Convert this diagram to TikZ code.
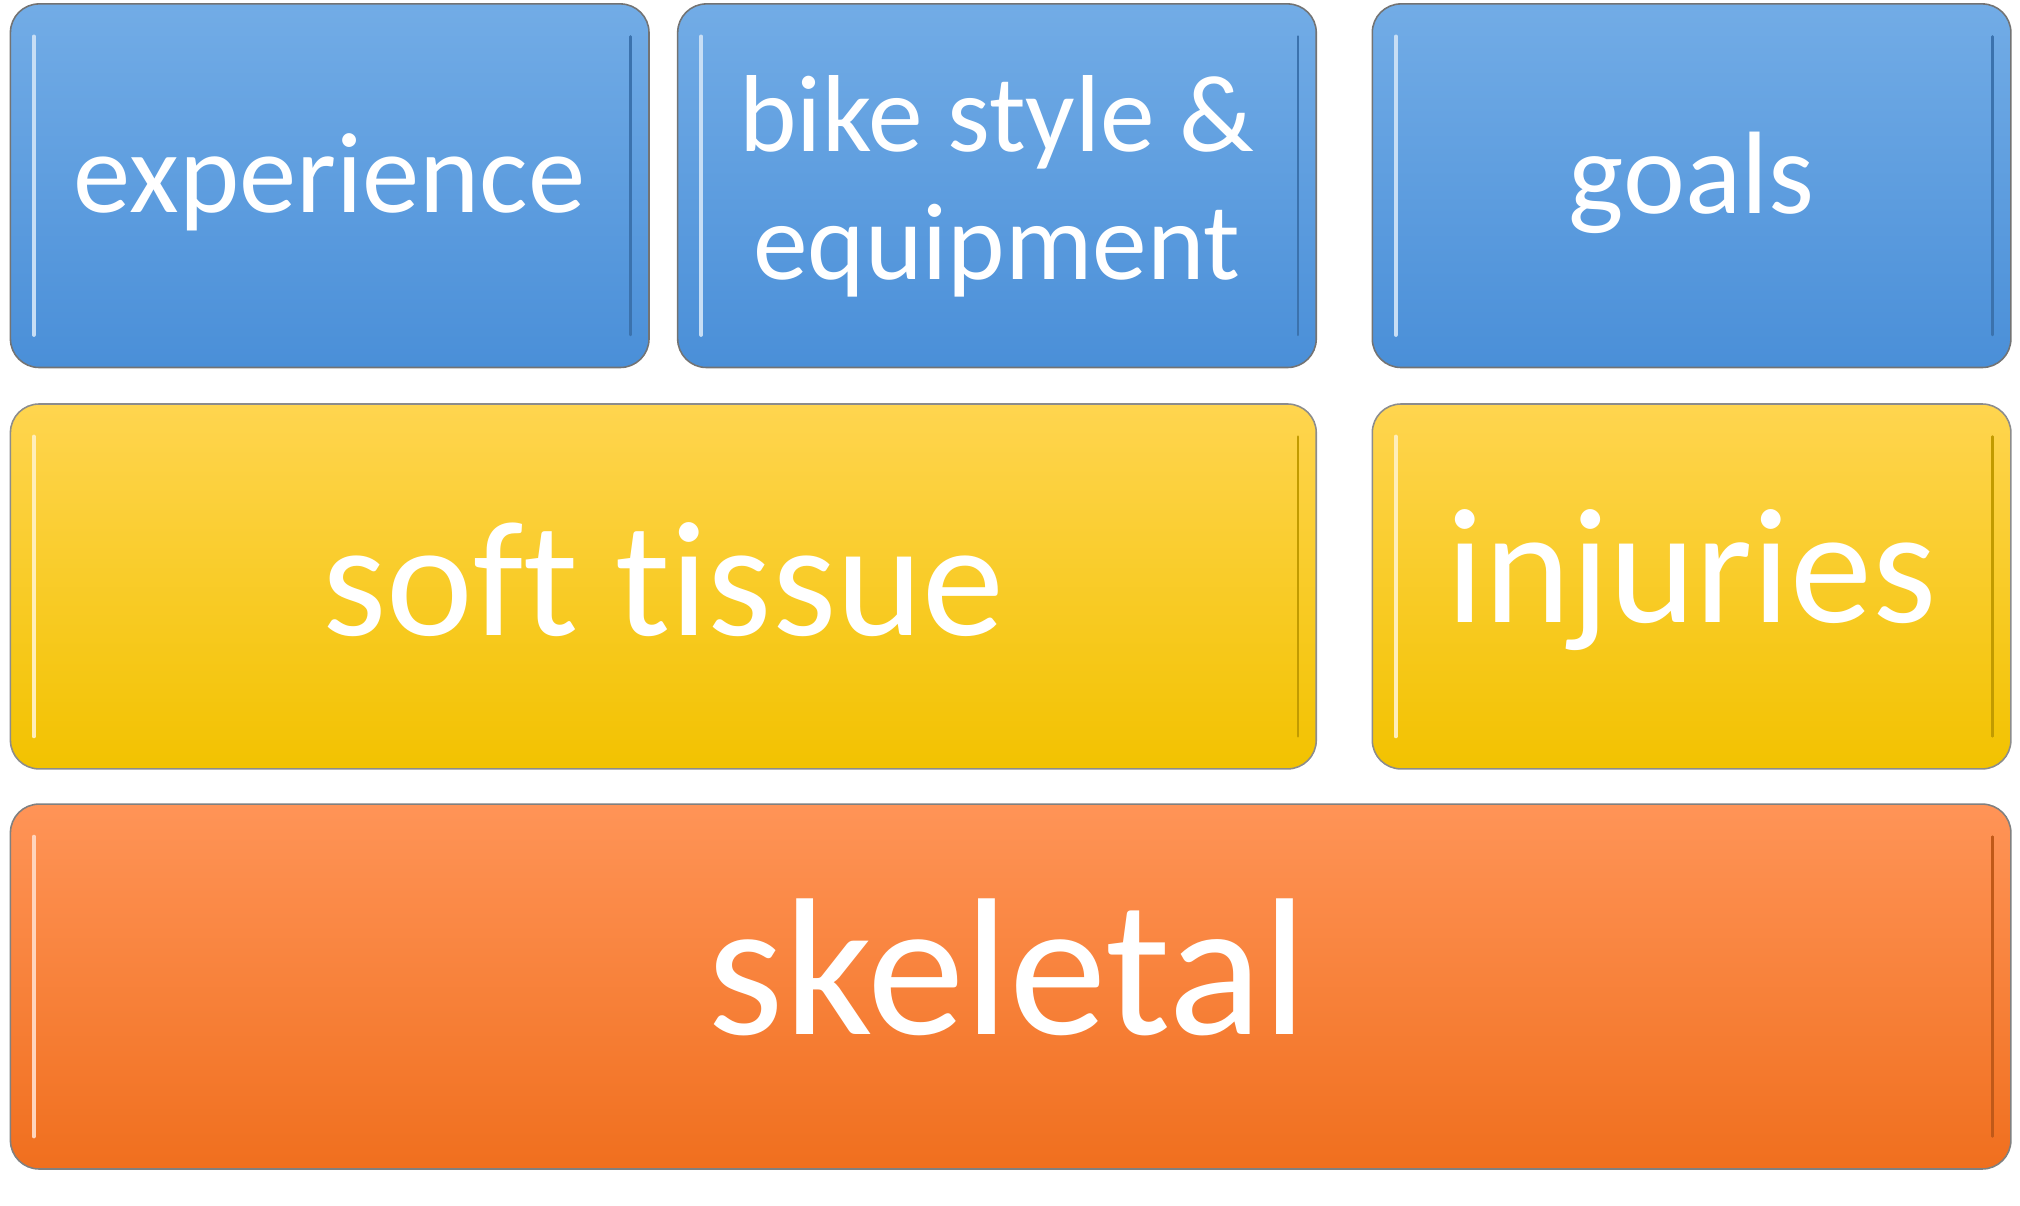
\documentclass[tikz,border=0pt]{standalone}
\usepackage{fontspec}
\setmainfont[Ligatures={NoCommon}]{Carlito}
\begin{document}
\begin{tikzpicture}[x=1pt,y=-1pt,
  box/.style={draw=#1, line width=1.2pt, rounded corners=22pt},
  hl/.style={draw=#1, line width=3pt, line cap=round},
  lbl/.style={text=white, align=center, inner sep=0pt}]
\definecolor{btop}{HTML}{72ACE6}\definecolor{bbot}{HTML}{4A8FD8}
\definecolor{ytop}{HTML}{FFD54F}\definecolor{ybot}{HTML}{F2C200}
\definecolor{otop}{HTML}{FF9457}\definecolor{obot}{HTML}{F06F1E}
\useasboundingbox (0,0) rectangle (1550,925);
\newcommand{\mybox}[6]{%
  \shade[box=#6, top color=#5top, bottom color=#5bot] (#1,#2) rectangle (#3,#4);
  \draw[hl=white!60!#5top] (#1+18,#2+25) -- (#1+18,#4-25);
  \draw[hl=#5bot!80!black, line width=2pt] (#3-14,#2+25) -- (#3-14,#4-25);
}
\mybox{8}{3}{498}{282}{b}{black!55}
\mybox{520}{3}{1010}{282}{b}{black!55}
\mybox{1053}{3}{1543}{282}{b}{black!55}
\mybox{8}{310}{1010}{590}{y}{black!45}
\mybox{1053}{310}{1543}{590}{y}{black!45}
\mybox{8}{617}{1543}{897}{o}{black!50}
\node[lbl, font=\fontsize{88}{90}\selectfont] (exp) at (253,140) {experience};
\node[lbl, font=\fontsize{84}{98}\selectfont] (bike) at (765,143) {bike style \&\\equipment};
\node[lbl, font=\fontsize{90}{90}\selectfont] (goals) at (1298,140) {goals};
\node[lbl, font=\fontsize{126}{126}\selectfont] (soft) at (509,445) {soft tissue};
\node[lbl, font=\fontsize{126}{126}\selectfont] (inj) at (1298,445) {injuries};
\node[lbl, font=\fontsize{150}{150}\selectfont] (skel) at (773,742) {skeletal};
\end{tikzpicture}
\end{document}
